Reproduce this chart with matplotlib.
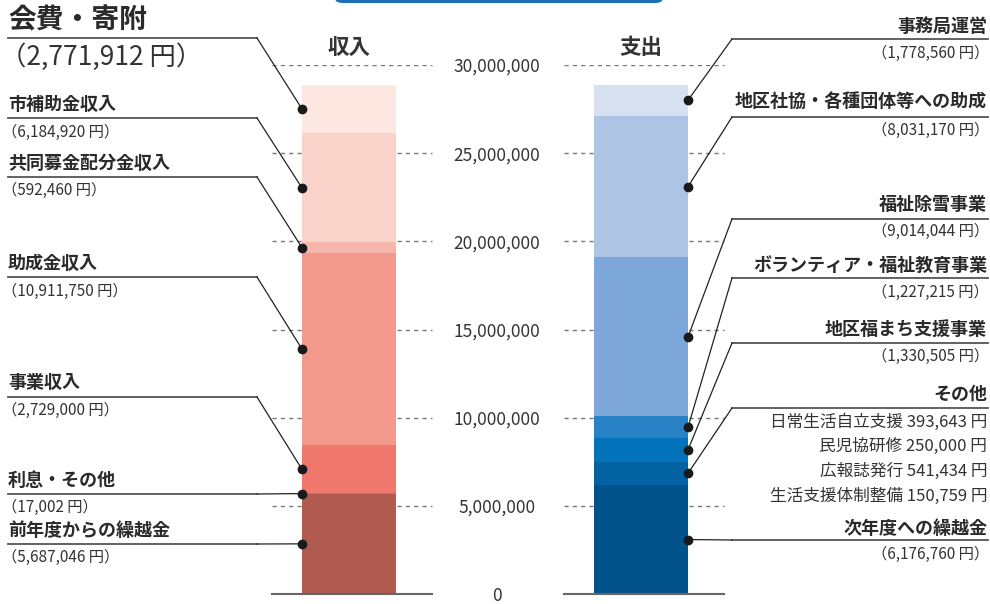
import numpy as np
import matplotlib
matplotlib.use("Agg")
import matplotlib.pyplot as plt
from matplotlib.lines import Line2D
from matplotlib.patches import FancyBboxPatch
from matplotlib.transforms import offset_copy

plt.rcParams['font.family'] = ['Noto Sans CJK JP', 'DejaVu Sans']

# data (bottom of the stack first)
income_labels = ['前年度からの繰越金', '利息・その他', '事業収入', '助成金収入',
                 '共同募金配分金収入', '市補助金収入', '会費・寄附']
income_values = [5687046, 17002, 2729000, 10911750, 592460, 6184920, 2771912]
income_colors = ['#b05a50', '#d86a5e', '#ef776c', '#f3998c',
                 '#f7b6ab', '#f9d2c9', '#fde7e1']

expense_labels = ['次年度への繰越金', 'その他', '地区福まち支援事業',
                  'ボランティア・福祉教育事業', '福祉除雪事業',
                  '地区社協・各種団体等への助成', '事務局運営']
other_items = ['日常生活自立支援', '民児協研修', '広報誌発行', '生活支援体制整備']
other_values = [393643, 250000, 541434, 150759]
expense_values = [6176760, sum(other_values), 1330505, 1227215, 9014044, 8031170, 1778560]
expense_colors = ['#02528b', '#0362a2', '#0272bb', '#2a82c6',
                  '#7ca7d8', '#aec4e5', '#d6e0f1']

ticks = [0, 5000000, 10000000, 15000000, 20000000, 25000000, 30000000]
headers = ['収入', '支出']

W, H = 990, 604


def fx(x):
    return x / W


def fy(y):
    return 1 - y / H


fig = plt.figure(figsize=(W / 100, H / 100), dpi=100)
ax = fig.add_axes([0, 10 / H, 1, 529 / H])
ax.set_xlim(-349 / 292, (W - 349) / 292)
ax.set_ylim(0, 30000000)
ax.axis('off')

bw = 94 / 292
for xpos, vals, cols in [(0, income_values, income_colors),
                         (1, expense_values, expense_colors)]:
    bottoms = np.concatenate([[0], np.cumsum(vals)[:-1]])
    ax.bar([xpos] * len(vals), vals, bottom=bottoms, width=bw, color=cols,
           zorder=2, linewidth=0)

# grid + tick labels
tick_tr = offset_copy(ax.transData, fig=fig, y=-2, units='dots')
for t in ticks:
    for xc in (0, 1):
        if t == 0:
            ax.plot([xc - 0.264, xc + 0.284], [t, t], color='#666666', lw=1.5,
                    zorder=3, clip_on=False)
        else:
            ax.plot([xc - 0.264, xc + 0.284], [t, t], color='#777777', lw=1,
                    ls=(0, (3, 3)), zorder=1)
    ax.text(0.507, t, f'{t:,}', ha='center', va='center',
            fontsize=12.5, color='#333333', transform=tick_tr)

for xc, h in zip((0, 1), headers):
    xd = fig.transFigure.inverted().transform(ax.transData.transform((xc, 0)))[0]
    fig.text(xd, fy(47), h, ha='center', va='center', fontsize=15.5,
             fontweight='bold', color='#333333')

# top banner edge
fig.add_artist(FancyBboxPatch((fx(335), fy(3)), fx(663) - fx(335), 0.1,
                              boxstyle='round,pad=0,rounding_size=0.008',
                              transform=fig.transFigure, facecolor='#1b6fb6',
                              edgecolor='none', clip_on=False))


def dot_pos(xc, vals, i):
    mid = sum(vals[:i]) + vals[i] / 2
    return fig.transFigure.inverted().transform(ax.transData.transform((xc, mid)))


def leader(pts_px, dot):
    xs = [fx(p[0]) for p in pts_px] + [dot[0]]
    ys = [fy(p[1]) for p in pts_px] + [dot[1]]
    fig.add_artist(Line2D(xs[:2], ys[:2], color='#555555', lw=1.3,
                          transform=fig.transFigure))
    fig.add_artist(Line2D(xs[1:], ys[1:], color='#222222', lw=0.9,
                          transform=fig.transFigure))
    fig.add_artist(Line2D([dot[0]], [dot[1]], marker='o', ms=6, color='#1a1a1a',
                          transform=fig.transFigure))


# income labels: (name y, line y, value y) in pixels
income_layout = {
    '会費・寄附': (20, 38, 57),
    '市補助金収入': (104, 118, 132),
    '共同募金配分金収入': (163, 177, 190),
    '助成金収入': (263, 277, 291),
    '事業収入': (383, 397, 410),
    '利息・その他': (480, 494, 507),
    '前年度からの繰越金': (530, 544, 557),
}
for i, lab in enumerate(income_labels):
    ny, ly, vy = income_layout[lab]
    big = lab == '会費・寄附'
    fig.text(fx(8), fy(ny), lab, ha='left', va='center',
             fontsize=20 if big else 13, fontweight='bold', color='#2a2a2a')
    fig.text(fx(0.5 if big else 2), fy(vy), f'（{income_values[i]:,} 円）',
             ha='left', va='center', fontsize=19 if big else 11,
             color='#333333')
    edge = -bw / 2
    d = dot_pos(0, income_values, i)
    d[0] = fig.transFigure.inverted().transform(ax.transData.transform((edge, 0)))[0]
    leader([(8, ly), (257, ly)], d)

# expense labels
expense_layout = {
    '事務局運営': (26, 39, 53),
    '地区社協・各種団体等への助成': (101, 117, 130),
    '福祉除雪事業': (204, 219, 231),
    'ボランティア・福祉教育事業': (265, 278, 292),
    '地区福まち支援事業': (329, 343, 356),
    'その他': (394, 408, None),
    '次年度への繰越金': (528, 540, 554),
}
for i, lab in enumerate(expense_labels):
    ny, ly, vy = expense_layout[lab]
    fig.text(fx(987), fy(ny), lab, ha='right', va='center', fontsize=13,
             fontweight='bold', color='#2a2a2a')
    if vy is not None:
        fig.text(fx(989), fy(vy), f'（{expense_values[i]:,} 円）', ha='right',
                 va='center', fontsize=11, color='#333333')
    edge = 1 + bw / 2
    d = dot_pos(1, expense_values, i)
    d[0] = fig.transFigure.inverted().transform(ax.transData.transform((edge, 0)))[0]
    leader([(988, ly), (732, ly)], d)

for k, (name, v) in enumerate(zip(other_items, other_values)):
    fig.text(fx(987), fy(422 + 24.7 * k), f'{name} {v:,} 円', ha='right',
             va='center', fontsize=12, color='#333333')

fig.savefig('out.png', dpi=100)
